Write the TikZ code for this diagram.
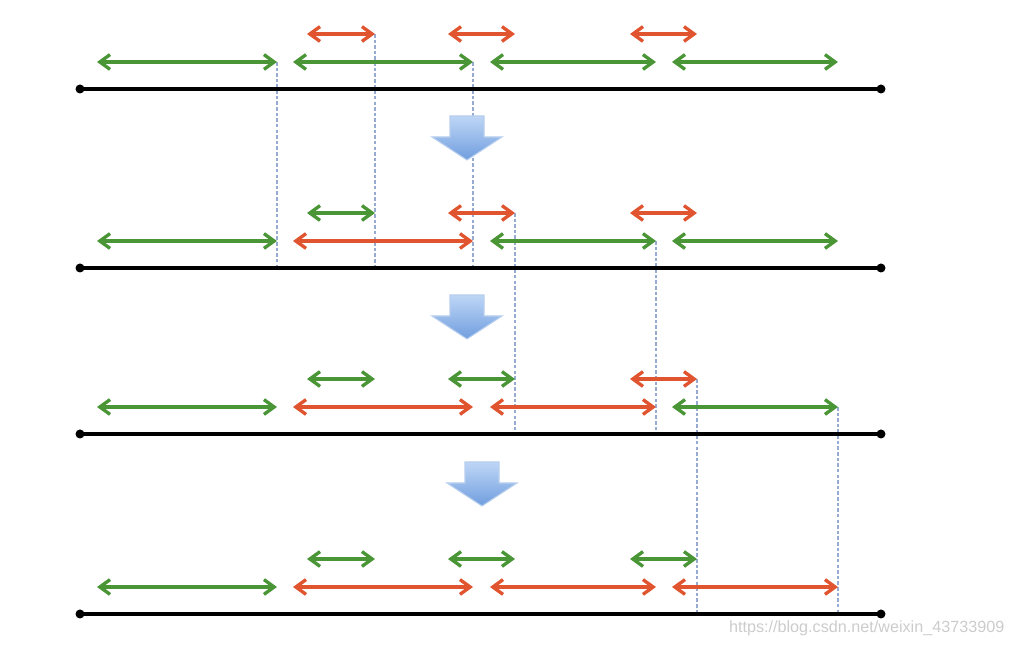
\documentclass[tikz,border=0pt]{standalone}
\usepackage{tikz}
\usepackage{fontspec}
\usetikzlibrary{arrows.meta}
\newfontfamily\wmfont{Liberation Sans}
\definecolor{segG}{RGB}{74,150,54}
\definecolor{segR}{RGB}{224,84,48}
\definecolor{guideBlue}{RGB}{150,170,210}
\definecolor{blockTop}{RGB}{190,214,246}
\definecolor{blockBot}{RGB}{112,158,222}

\begin{document}
\begin{tikzpicture}[x=0.01cm, y=-0.01cm,
    seg/.style={line width=0.95pt, {Straight Barb[length=2.9pt,width=4.2pt]}-{Straight Barb[length=2.9pt,width=4.2pt]}},
    guide/.style={guideBlue, line width=0.4pt, dash pattern=on 1pt off 0.6pt},
    axis/.style={line width=0.95pt},
    blockarrow/.style={top color=blockTop, bottom color=blockBot, draw=blockBot!50, line width=0.3pt}]
    \useasboundingbox (0,0) rectangle (1014,646);

    \foreach \r/\yb in {1/89, 2/268, 3/434, 4/614} {
        \coordinate (A\r) at (80,\yb);
        \coordinate (Z\r) at (881,\yb);
        \coordinate (L\r a) at (97,\yb-27);  \coordinate (L\r b) at (277,\yb-27);
        \coordinate (L\r c) at (293,\yb-27); \coordinate (L\r d) at (473,\yb-27);
        \coordinate (L\r e) at (490,\yb-27); \coordinate (L\r f) at (656,\yb-27);
        \coordinate (L\r g) at (672,\yb-27); \coordinate (L\r h) at (838,\yb-27);
        \coordinate (U\r a) at (307,\yb-55); \coordinate (U\r b) at (375,\yb-55);
        \coordinate (U\r c) at (448,\yb-55); \coordinate (U\r d) at (515,\yb-55);
        \coordinate (U\r e) at (630,\yb-55); \coordinate (U\r f) at (697,\yb-55);
    }

    \draw[guide] (L1b) -- (L1b |- A2);
    \draw[guide] (U1b) -- (U1b |- A2);
    \draw[guide] (L1d) -- (L1d |- A2);
    \draw[guide] (U2d) -- (U2d |- A3);
    \draw[guide] (L2f) -- (L2f |- A3);
    \draw[guide] (U3f) -- (U3f |- A4);
    \draw[guide] (L3h) -- (L3h |- A4);

    \foreach \r/\la/\lb/\lc/\ld/\ua/\ub/\uc in
        {1/G/G/G/G/R/R/R, 2/G/R/G/G/G/R/R, 3/G/R/R/G/G/G/R, 4/G/R/R/R/G/G/G} {
        \draw[axis] (A\r) -- (Z\r);
        \fill (A\r) circle (4.5);
        \fill (Z\r) circle (4.5);
        \draw[seg, color=seg\la] (L\r a) -- (L\r b);
        \draw[seg, color=seg\lb] (L\r c) -- (L\r d);
        \draw[seg, color=seg\lc] (L\r e) -- (L\r f);
        \draw[seg, color=seg\ld] (L\r g) -- (L\r h);
        \draw[seg, color=seg\ua] (U\r a) -- (U\r b);
        \draw[seg, color=seg\ub] (U\r c) -- (U\r d);
        \draw[seg, color=seg\uc] (U\r e) -- (U\r f);
    }

    \foreach \cx/\ty in {467/116, 467/295, 482/462} {
        \shade[blockarrow] (\cx-17,\ty) -- (\cx+17,\ty) -- (\cx+17,\ty+21) -- (\cx+35,\ty+21)
            -- (\cx,\ty+44) -- (\cx-35,\ty+21) -- (\cx-17,\ty+21) -- cycle;
    }

    \node[text=gray!40, font=\wmfont\fontsize{4.6}{5}\selectfont, anchor=east, inner sep=0pt] (wm) at (1005,628)
        {https://blog.csdn.net/weixin\_43733909};
\end{tikzpicture}
\end{document}
